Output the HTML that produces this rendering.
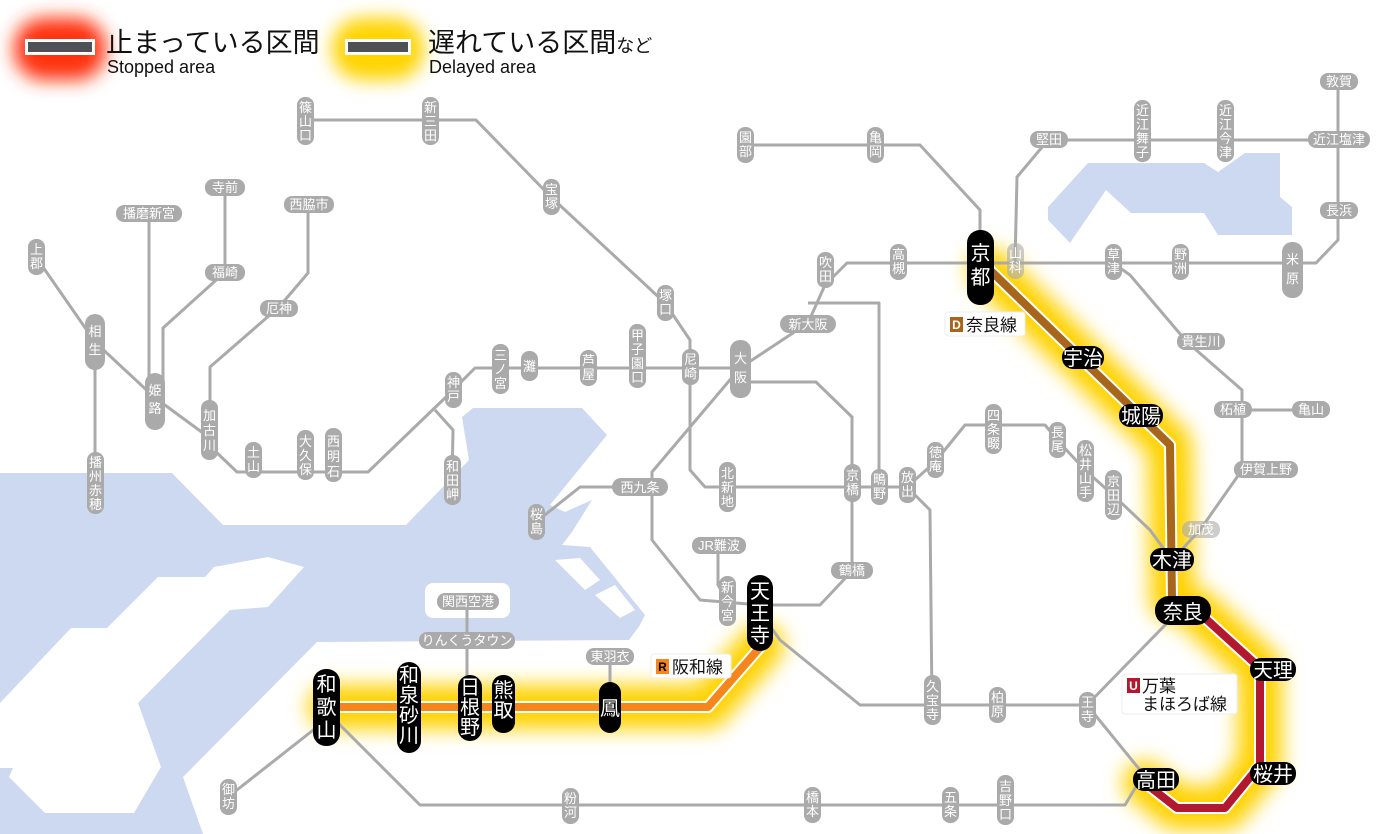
<!DOCTYPE html>
<html><head><meta charset="utf-8"><style>
html,body{margin:0;padding:0;background:#fff;width:1400px;height:834px;overflow:hidden}
svg{display:block;font-family:"Liberation Sans","Noto Sans CJK JP",sans-serif}
.g{fill:#aaa}.gt{fill:#fff;font-size:13px;text-anchor:middle}
.b{fill:#000}.bt{fill:#fff;font-size:20px;text-anchor:middle}
.ln{fill:none;stroke:#aaa;stroke-width:3;stroke-linejoin:round}
</style></head><body>
<svg width="1400" height="834" viewBox="0 0 1400 834">
<defs>
<filter id="bl" x="-50%" y="-50%" width="200%" height="200%"><feGaussianBlur stdDeviation="9"/></filter>
<filter id="bl2" x="-50%" y="-50%" width="200%" height="200%"><feGaussianBlur stdDeviation="10"/></filter>
</defs>
<path fill="#cdd9f0" d="M0,473 L172,473 L223,525 L406,525 L469,460 L462,417 L473,408 L582,408 L607,435 L550,505 L565,512 L592,500 L572,532 L562,545 L590,547 L645,615 L640,625 L629,640 L317,642 L183,777 L203,834 L0,834 Z"/>
<path fill="#fff" d="M0,703 L71,628 L107,628 L158,577 L205,577 L214,567 L268,557 L304,567 L268,607 L230,610 L138,703 L161,767 L134,813 L45,813 L9,777 L13,768 L0,768 Z"/>
<rect x="425" y="583" width="85" height="35" rx="8" fill="#fff"/>
<path fill="#fff" d="M555,560 L580,558 L600,580 L585,590 Z M595,595 L615,585 L635,610 L620,618 Z"/>
<path fill="#cdd9f0" d="M1048,207 L1088,163 L1204,163 L1218,172 L1245,153 L1280,153 L1280,197 L1292,207 L1292,235 L1218,235 L1204,213 L1131,213 L1106,190 L1070,243 L1048,220 Z"/>

<rect x="14" y="18" width="92" height="62" rx="30" fill="#ff3010" filter="url(#bl)"/>
<rect x="25" y="39" width="70" height="16" fill="#fff"/><rect x="28" y="42" width="64" height="10" fill="#4e5256"/>
<text x="106" y="52" font-size="27" fill="#111">止まっている区間</text>
<text x="107" y="73" font-size="18" fill="#111">Stopped area</text>
<rect x="332" y="18" width="92" height="62" rx="30" fill="#ffd400" filter="url(#bl)"/>
<rect x="345" y="39" width="66" height="16" fill="#fff"/><rect x="348" y="42" width="60" height="10" fill="#4e5256"/>
<text x="428" y="52" font-size="27" fill="#111">遅れている区間<tspan font-size="18">など</tspan></text>
<text x="429" y="73" font-size="18" fill="#111">Delayed area</text>

<g filter="url(#bl2)" stroke="#ffd200" stroke-width="44" fill="none" stroke-linejoin="round" stroke-linecap="round">
<polyline points="990,270 1170,445 1172,600"/>
<polyline points="1195,609 1260,668 1260,765 1225,808 1177,808 1145,783"/>
<polyline points="330,707 708,707 762,645"/>
</g>

<g class="ln">
<polyline points="305,120 476,120 551,197 665,303 690,340 690,470 705,487 907,487"/>
<polyline points="36,257 95,342 154,397 203,433 214,450 237,472 368,472 446,397 475,368 740,368"/>
<polyline points="95,342 95,483"/>
<polyline points="149,213 149,397"/>
<polyline points="225,187 225,272 163,328 163,400"/>
<polyline points="308,204 308,273 279,307 210,367 210,427"/>
<polyline points="435,410 453,430 452,481"/>
<polyline points="740,368 652,472 652,540 700,600 760,605 820,605 852,571 852,417 816,382 740,382"/>
<polyline points="652,487 580,487 536,522"/>
<polyline points="718,546 718,585 727,600"/>
<polyline points="740,368 808,323 825,285 847,263 1316,263 1338,240 1338,82"/>
<polyline points="1015,263 1017,177 1048,140 1338,140"/>
<polyline points="745,145 920,145 980,210 980,263"/>
<polyline points="808,303 879,303 879,487"/>
<polyline points="907,487 930,510 932,705"/>
<polyline points="907,487 935,462 965,425 1045,425 1060,443 1085,470 1113,495 1150,530 1172,560"/>
<polyline points="1113,263 1130,275 1187,342 1242,390 1242,470 1200,530 1172,560"/>
<polyline points="1242,410 1310,410"/>
<polyline points="760,612 780,640 860,705 1087,705 1170,620"/>
<polyline points="1087,705 1140,770"/>
<polyline points="1140,780 1125,805 420,805 335,720"/>
<polyline points="326,720 228,797"/>
<polyline points="467,602 467,700"/>
<polyline points="610,657 610,700"/>
</g>

<g fill="none" stroke-linejoin="round">
<polyline points="990,270 1170,445 1172,600" stroke="#fff" stroke-width="12"/>
<polyline points="990,270 1170,445 1172,600" stroke="#a7661c" stroke-width="8"/>
<polyline points="1195,609 1260,668 1260,765 1225,808 1177,808 1145,783" stroke="#fff" stroke-width="12"/>
<polyline points="1195,609 1260,668 1260,765 1225,808 1177,808 1145,783" stroke="#b2182e" stroke-width="8"/>
<polyline points="330,707 708,707 762,645" stroke="#fff" stroke-width="12"/>
<polyline points="330,707 708,707 762,645" stroke="#f5861c" stroke-width="8"/>
</g>

<g>
<rect class="g" x="205" y="179" width="40" height="17" rx="8"/><text class="gt" x="225" y="192">寺前</text>
<rect class="g" x="116" y="205" width="66" height="17" rx="8"/><text class="gt" x="149" y="218">播磨新宮</text>
<rect class="g" x="284" y="196" width="50" height="17" rx="8"/><text class="gt" x="309" y="209">西脇市</text>
<rect class="g" x="205" y="264" width="40" height="17" rx="8"/><text class="gt" x="225" y="277">福崎</text>
<rect class="g" x="260" y="300" width="38" height="17" rx="8"/><text class="gt" x="279" y="313">厄神</text>
<rect class="g" x="780" y="315" width="56" height="18" rx="9"/><text class="gt" x="808" y="329" font-size="14">新大阪</text>
<rect class="g" x="1030" y="131" width="38" height="17" rx="8"/><text class="gt" x="1049" y="144">堅田</text>
<rect class="g" x="1308" y="131" width="62" height="17" rx="8"/><text class="gt" x="1339" y="144">近江塩津</text>
<rect class="g" x="1320" y="73" width="38" height="17" rx="8"/><text class="gt" x="1339" y="86">敦賀</text>
<rect class="g" x="1320" y="202" width="38" height="17" rx="8"/><text class="gt" x="1339" y="215">長浜</text>
<rect class="g" x="1177" y="333" width="48" height="17" rx="8"/><text class="gt" x="1201" y="346">貴生川</text>
<rect class="g" x="1214" y="401" width="38" height="17" rx="8"/><text class="gt" x="1233" y="414">柘植</text>
<rect class="g" x="1292" y="401" width="38" height="17" rx="8"/><text class="gt" x="1311" y="414">亀山</text>
<rect class="g" x="1234" y="461" width="64" height="17" rx="8"/><text class="gt" x="1266" y="474">伊賀上野</text>
<rect class="g" x="1182" y="521" width="38" height="17" rx="8" opacity="0.6"/><text class="gt" x="1201" y="534">加茂</text>
<rect class="g" x="612" y="478" width="56" height="18" rx="9"/><text class="gt" x="640" y="492">西九条</text>
<rect class="g" x="692" y="537" width="54" height="17" rx="8"/><text class="gt" x="719" y="550">JR難波</text>
<rect class="g" x="831" y="562" width="42" height="17" rx="8"/><text class="gt" x="852" y="575">鶴橋</text>
<rect class="g" x="437" y="593" width="62" height="17" rx="8"/><text class="gt" x="468" y="606">関西空港</text>
<rect class="g" x="419" y="632" width="96" height="17" rx="8"/><text class="gt" x="467" y="645">りんくうタウン</text>
<rect class="g" x="586" y="648" width="48" height="17" rx="8"/><text class="gt" x="610" y="661">東羽衣</text>
</g>

<g>
<rect class="g" x="297" y="97" width="17" height="48" rx="8"/><text class="gt" x="305.5" y="112">篠<tspan x="305.5" dy="14">山</tspan><tspan x="305.5" dy="14">口</tspan></text>
<rect class="g" x="422" y="97" width="17" height="48" rx="8"/><text class="gt" x="430.5" y="112">新<tspan x="430.5" dy="14">三</tspan><tspan x="430.5" dy="14">田</tspan></text>
<rect class="g" x="543" y="179" width="17" height="36" rx="8"/><text class="gt" x="551.5" y="194">宝<tspan x="551.5" dy="14">塚</tspan></text>
<rect class="g" x="657" y="285" width="17" height="36" rx="8"/><text class="gt" x="665.5" y="300">塚<tspan x="665.5" dy="14">口</tspan></text>
<rect class="g" x="682" y="349" width="17" height="36" rx="8"/><text class="gt" x="690.5" y="364">尼<tspan x="690.5" dy="14">崎</tspan></text>
<rect class="g" x="629" y="324" width="17" height="64" rx="8"/><text class="gt" x="637.5" y="340">甲<tspan x="637.5" dy="14">子</tspan><tspan x="637.5" dy="14">園</tspan><tspan x="637.5" dy="14">口</tspan></text>
<rect class="g" x="580" y="350" width="17" height="36" rx="8"/><text class="gt" x="588.5" y="365">芦<tspan x="588.5" dy="14">屋</tspan></text>
<rect class="g" x="521" y="351" width="17" height="30" rx="8"/><text class="gt" x="529.5" y="371">灘</text>
<rect class="g" x="492" y="344" width="17" height="50" rx="8"/><text class="gt" x="500.5" y="360">三<tspan x="500.5" dy="14">ノ</tspan><tspan x="500.5" dy="14">宮</tspan></text>
<rect class="g" x="445" y="372" width="17" height="36" rx="8"/><text class="gt" x="453.5" y="387">神<tspan x="453.5" dy="14">戸</tspan></text>
<rect class="g" x="28" y="239" width="17" height="36" rx="8"/><text class="gt" x="36.5" y="254">上<tspan x="36.5" dy="14">郡</tspan></text>
<rect class="g" x="85" y="314" width="20" height="56" rx="10"/><text class="gt" x="95" y="336" font-size="17">相<tspan x="95" dy="18">生</tspan></text>
<rect class="g" x="145" y="373" width="20" height="57" rx="10"/><text class="gt" x="155" y="395" font-size="17">姫<tspan x="155" dy="18">路</tspan></text>
<rect class="g" x="201" y="400" width="17" height="60" rx="8"/><text class="gt" x="209.5" y="420" font-size="14">加<tspan x="209.5" dy="15">古</tspan><tspan x="209.5" dy="15">川</tspan></text>
<rect class="g" x="245" y="442" width="17" height="36" rx="8"/><text class="gt" x="253.5" y="457">土<tspan x="253.5" dy="14">山</tspan></text>
<rect class="g" x="297" y="430" width="17" height="50" rx="8"/><text class="gt" x="305.5" y="446">大<tspan x="305.5" dy="14">久</tspan><tspan x="305.5" dy="14">保</tspan></text>
<rect class="g" x="325" y="428" width="17" height="54" rx="8"/><text class="gt" x="333.5" y="446" font-size="14">西<tspan x="333.5" dy="15">明</tspan><tspan x="333.5" dy="15">石</tspan></text>
<rect class="g" x="444" y="455" width="17" height="50" rx="8"/><text class="gt" x="452.5" y="471">和<tspan x="452.5" dy="14">田</tspan><tspan x="452.5" dy="14">岬</tspan></text>
<rect class="g" x="87" y="452" width="17" height="62" rx="8"/><text class="gt" x="95.5" y="467">播<tspan x="95.5" dy="14">州</tspan><tspan x="95.5" dy="14">赤</tspan><tspan x="95.5" dy="14">穂</tspan></text>
<rect class="g" x="737" y="127" width="17" height="36" rx="8"/><text class="gt" x="745.5" y="142">園<tspan x="745.5" dy="14">部</tspan></text>
<rect class="g" x="867" y="127" width="17" height="36" rx="8"/><text class="gt" x="875.5" y="142">亀<tspan x="875.5" dy="14">岡</tspan></text>
<rect class="g" x="890" y="244" width="17" height="36" rx="8"/><text class="gt" x="898.5" y="259">高<tspan x="898.5" dy="14">槻</tspan></text>
<rect class="g" x="817" y="252" width="17" height="36" rx="8"/><text class="gt" x="825.5" y="267">吹<tspan x="825.5" dy="14">田</tspan></text>
<rect class="g" x="730" y="340" width="21" height="58" rx="10"/><text class="gt" x="740.5" y="363" font-size="18">大<tspan x="740.5" dy="19">阪</tspan></text>
<rect class="g" x="1007" y="243" width="17" height="36" rx="8" opacity="0.6"/><text class="gt" x="1015.5" y="258">山<tspan x="1015.5" dy="14">科</tspan></text>
<rect class="g" x="1134" y="100" width="17" height="62" rx="8"/><text class="gt" x="1142.5" y="115">近<tspan x="1142.5" dy="14">江</tspan><tspan x="1142.5" dy="14">舞</tspan><tspan x="1142.5" dy="14">子</tspan></text>
<rect class="g" x="1217" y="100" width="17" height="62" rx="8"/><text class="gt" x="1225.5" y="115">近<tspan x="1225.5" dy="14">江</tspan><tspan x="1225.5" dy="14">今</tspan><tspan x="1225.5" dy="14">津</tspan></text>
<rect class="g" x="1105" y="244" width="17" height="36" rx="8"/><text class="gt" x="1113.5" y="259">草<tspan x="1113.5" dy="14">津</tspan></text>
<rect class="g" x="1172" y="244" width="17" height="36" rx="8"/><text class="gt" x="1180.5" y="259">野<tspan x="1180.5" dy="14">洲</tspan></text>
<rect class="g" x="1282" y="242" width="21" height="56" rx="10"/><text class="gt" x="1292.5" y="264" font-size="18">米<tspan x="1292.5" dy="19">原</tspan></text>
<rect class="g" x="985" y="404" width="17" height="50" rx="8"/><text class="gt" x="993.5" y="420">四<tspan x="993.5" dy="14">条</tspan><tspan x="993.5" dy="14">畷</tspan></text>
<rect class="g" x="927" y="442" width="17" height="36" rx="8"/><text class="gt" x="935.5" y="457">徳<tspan x="935.5" dy="14">庵</tspan></text>
<rect class="g" x="1049" y="422" width="17" height="36" rx="8"/><text class="gt" x="1057.5" y="437">長<tspan x="1057.5" dy="14">尾</tspan></text>
<rect class="g" x="1077" y="440" width="17" height="62" rx="8"/><text class="gt" x="1085.5" y="455">松<tspan x="1085.5" dy="14">井</tspan><tspan x="1085.5" dy="14">山</tspan><tspan x="1085.5" dy="14">手</tspan></text>
<rect class="g" x="1105" y="470" width="17" height="50" rx="8"/><text class="gt" x="1113.5" y="486">京<tspan x="1113.5" dy="14">田</tspan><tspan x="1113.5" dy="14">辺</tspan></text>
<rect class="g" x="719" y="462" width="17" height="50" rx="8"/><text class="gt" x="727.5" y="478">北<tspan x="727.5" dy="14">新</tspan><tspan x="727.5" dy="14">地</tspan></text>
<rect class="g" x="844" y="464" width="17" height="38" rx="8"/><text class="gt" x="852.5" y="480">京<tspan x="852.5" dy="14">橋</tspan></text>
<rect class="g" x="871" y="469" width="17" height="36" rx="8"/><text class="gt" x="879.5" y="484">鴫<tspan x="879.5" dy="14">野</tspan></text>
<rect class="g" x="899" y="467" width="17" height="36" rx="8"/><text class="gt" x="907.5" y="482">放<tspan x="907.5" dy="14">出</tspan></text>
<rect class="g" x="528" y="504" width="17" height="36" rx="8"/><text class="gt" x="536.5" y="519">桜<tspan x="536.5" dy="14">島</tspan></text>
<rect class="g" x="719" y="576" width="17" height="50" rx="8"/><text class="gt" x="727.5" y="592">新<tspan x="727.5" dy="14">今</tspan><tspan x="727.5" dy="14">宮</tspan></text>
<rect class="g" x="924" y="675" width="17" height="50" rx="8"/><text class="gt" x="932.5" y="691">久<tspan x="932.5" dy="14">宝</tspan><tspan x="932.5" dy="14">寺</tspan></text>
<rect class="g" x="989" y="687" width="17" height="36" rx="8"/><text class="gt" x="997.5" y="702">柏<tspan x="997.5" dy="14">原</tspan></text>
<rect class="g" x="1079" y="692" width="17" height="36" rx="8"/><text class="gt" x="1087.5" y="707">王<tspan x="1087.5" dy="14">寺</tspan></text>
<rect class="g" x="562" y="788" width="17" height="36" rx="8"/><text class="gt" x="570.5" y="803">粉<tspan x="570.5" dy="14">河</tspan></text>
<rect class="g" x="804" y="787" width="17" height="36" rx="8"/><text class="gt" x="812.5" y="802">橋<tspan x="812.5" dy="14">本</tspan></text>
<rect class="g" x="942" y="787" width="17" height="36" rx="8"/><text class="gt" x="950.5" y="802">五<tspan x="950.5" dy="14">条</tspan></text>
<rect class="g" x="997" y="775" width="17" height="50" rx="8"/><text class="gt" x="1005.5" y="791">吉<tspan x="1005.5" dy="14">野</tspan><tspan x="1005.5" dy="14">口</tspan></text>
<rect class="g" x="220" y="779" width="17" height="36" rx="8"/><text class="gt" x="228.5" y="794">御<tspan x="228.5" dy="14">坊</tspan></text>
</g>

<g>
<rect class="b" x="967" y="230" width="27" height="75" rx="13"/><text class="bt" x="980.5" y="260" font-size="22">京<tspan x="980.5" dy="24">都</tspan></text>
<rect class="b" x="1062" y="346" width="42" height="23" rx="11"/><text class="bt" x="1083" y="365" font-size="18">宇治</text>
<rect class="b" x="1119" y="404" width="44" height="23" rx="11"/><text class="bt" x="1141" y="423" font-size="18">城陽</text>
<rect class="b" x="1150" y="548" width="44" height="23" rx="11"/><text class="bt" x="1172" y="567" font-size="18">木津</text>
<rect class="b" x="1155" y="596" width="56" height="29" rx="14"/><text class="bt" x="1183" y="619" font-size="23">奈良</text>
<rect class="b" x="1250" y="658" width="46" height="23" rx="11"/><text class="bt" x="1273" y="677" font-size="18">天理</text>
<rect class="b" x="1250" y="762" width="46" height="23" rx="11"/><text class="bt" x="1273" y="781" font-size="18">桜井</text>
<rect class="b" x="1133" y="768" width="46" height="23" rx="11"/><text class="bt" x="1156" y="787" font-size="18">高田</text>
<rect class="b" x="747" y="575" width="26" height="76" rx="13"/><text class="bt" x="760" y="598" font-size="21">天<tspan x="760" dy="22">王</tspan><tspan x="760" dy="22">寺</tspan></text>
<rect class="b" x="599" y="682" width="22" height="51" rx="11"/><text class="bt" x="610" y="715" font-size="18">鳳</text>
<rect class="b" x="492" y="675" width="23" height="58" rx="11"/><text class="bt" x="503.5" y="697" font-size="18">熊<tspan x="503.5" dy="20">取</tspan></text>
<rect class="b" x="458" y="675" width="24" height="66" rx="12"/><text class="bt" x="470" y="694" font-size="18">日<tspan x="470" dy="20">根</tspan><tspan x="470" dy="20">野</tspan></text>
<rect class="b" x="397" y="662" width="24" height="91" rx="12"/><text class="bt" x="409" y="682" font-size="18">和<tspan x="409" dy="20">泉</tspan><tspan x="409" dy="20">砂</tspan><tspan x="409" dy="20">川</tspan></text>
<rect class="b" x="313" y="669" width="27" height="77" rx="13"/><text class="bt" x="326.5" y="691" font-size="21">和<tspan x="326.5" dy="23">歌</tspan><tspan x="326.5" dy="23">山</tspan></text>
</g>

<rect x="945" y="312" width="80" height="24" rx="3" fill="#fff" stroke="#eee"/>
<rect x="950" y="317" width="13" height="15" fill="#a7661c"/><text x="956.5" y="329" font-size="12" fill="#fff" text-anchor="middle" font-weight="bold">D</text>
<text x="966" y="331" font-size="17" fill="#111">奈良線</text>
<rect x="651" y="654" width="80" height="24" rx="3" fill="#fff" stroke="#eee"/>
<rect x="656" y="659" width="13" height="15" fill="#f5861c"/><text x="662.5" y="671" font-size="12" fill="#000" text-anchor="middle" font-weight="bold">R</text>
<text x="672" y="673" font-size="17" fill="#111">阪和線</text>
<rect x="1122" y="674" width="115" height="40" rx="3" fill="#fff" stroke="#eee"/>
<rect x="1127" y="678" width="13" height="15" fill="#b2182e"/><text x="1133.5" y="690" font-size="12" fill="#fff" text-anchor="middle" font-weight="bold">U</text>
<text x="1142" y="692" font-size="17" fill="#111">万葉</text>
<text x="1142" y="710" font-size="17" fill="#111">まほろば線</text>
</svg>
</body></html>
